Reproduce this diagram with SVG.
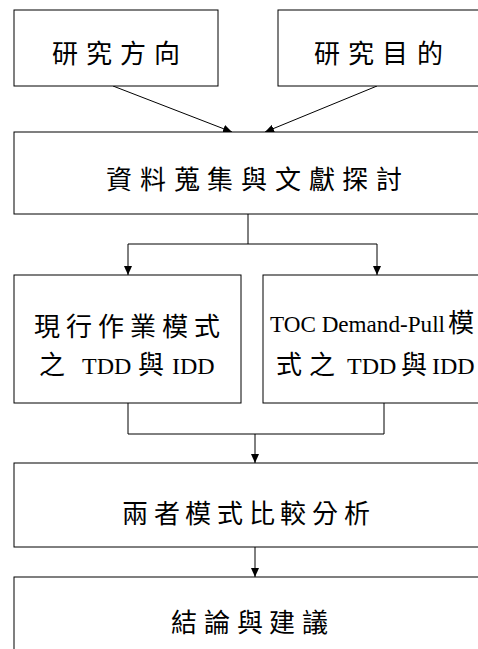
<svg xmlns="http://www.w3.org/2000/svg" width="478" height="649" viewBox="0 0 478 649">
  <style>
    .box { fill: #fff; stroke: #000; stroke-width: 1; }
    .cjk { font-family: "Noto Sans CJK TC", "Liberation Serif", serif; font-size: 26px; fill: #000; }
    .lat { font-family: "Liberation Serif", "Times New Roman", serif; font-size: 24px; fill: #000; }
    .wire { fill: none; stroke: #000; stroke-width: 1; }
  </style>
  <defs>
    <marker id="arrow" markerUnits="userSpaceOnUse" markerWidth="9" markerHeight="8" refX="9" refY="4" orient="auto">
      <path d="M0,0 L9,4 L0,8 z" fill="#000"/>
    </marker>
  </defs>
  <rect width="478" height="649" fill="#fff"/>

  <!-- connectors -->
  <g id="connectors">
    <line class="wire" x1="113" y1="86" x2="232" y2="132" marker-end="url(#arrow)"/>
    <line class="wire" x1="377" y1="86" x2="265" y2="132" marker-end="url(#arrow)"/>
    <polyline class="wire" points="248,214 248,244"/>
    <polyline class="wire" points="128,244 377,244"/>
    <line class="wire" x1="128" y1="244" x2="128" y2="275" marker-end="url(#arrow)"/>
    <line class="wire" x1="377" y1="244" x2="377" y2="275" marker-end="url(#arrow)"/>
    <polyline class="wire" points="128,403 128,434 384,434 384,403"/>
    <line class="wire" x1="255" y1="434" x2="255" y2="463" marker-end="url(#arrow)"/>
    <line class="wire" x1="255" y1="547" x2="255" y2="577" marker-end="url(#arrow)"/>
  </g>

  <g id="direction">
    <rect class="box" x="14" y="10" width="204" height="76"/>
    <text class="cjk" x="52 86 120 154" y="63">研究方向</text>
  </g>

  <g id="purpose">
    <rect class="box" x="278" y="10" width="220" height="76"/>
    <text class="cjk" x="314 348 382 417" y="63">研究目的</text>
  </g>

  <g id="literature">
    <rect class="box" x="14" y="132" width="490" height="82"/>
    <text class="cjk" x="106 140 174 207 241 275 309 342 376" y="189">資料蒐集與文獻探討</text>
  </g>

  <g id="current-mode">
    <rect class="box" x="14" y="275" width="227" height="128"/>
    <text class="cjk" x="34 66 98 130 162 194" y="336">現行作業模式</text>
    <text y="374"><tspan class="cjk" x="39">之</tspan><tspan class="lat" x="82">TDD</tspan><tspan class="cjk" x="138">與</tspan><tspan class="lat" x="172">IDD</tspan></text>
  </g>

  <g id="toc-mode">
    <rect class="box" x="263" y="275" width="240" height="128"/>
    <text y="332"><tspan class="lat" x="270" textLength="175" lengthAdjust="spacingAndGlyphs">TOC Demand-Pull</tspan><tspan class="cjk" x="448">模</tspan></text>
    <text y="374"><tspan class="cjk" x="276">式</tspan><tspan class="cjk" x="309">之</tspan><tspan class="lat" x="347">TDD</tspan><tspan class="cjk" x="401">與</tspan><tspan class="lat" x="432">IDD</tspan></text>
  </g>

  <g id="comparison">
    <rect class="box" x="14" y="463" width="490" height="84"/>
    <text class="cjk" x="122 154 185 217 249 280 312 344" y="523">兩者模式比較分析</text>
  </g>

  <g id="conclusion">
    <rect class="box" x="14" y="577" width="490" height="100"/>
    <text class="cjk" x="171 204 237 269 302" y="632">結論與建議</text>
  </g>
</svg>
